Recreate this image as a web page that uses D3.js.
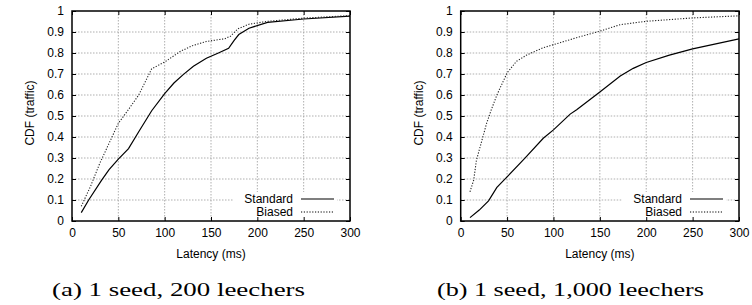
<!DOCTYPE html>
<html lang="en">
<head>
	<meta charset="UTF-8">
	<title>CDF latency</title>
	<style>
		body { margin: 0; background: #fff; }
	</style>
</head>
<body>
	<script src="https://cdn.jsdelivr.net/npm/d3@7"></script>
	<script>
		// panel (a): 1 seed, 200 leechers
		var stdLatA = [10, 18, 32, 40, 50, 61, 72, 86, 100, 110, 120, 131, 145, 158, 169, 175, 180, 191, 211, 250, 300];
		var stdCdfA = [0.04, 0.10, 0.195, 0.245, 0.295, 0.345, 0.425, 0.525, 0.607, 0.657, 0.697, 0.737, 0.775, 0.80, 0.822, 0.86, 0.888, 0.918, 0.946, 0.962, 0.976];
		var biasLatA = [10, 20, 30, 40, 50, 60, 72, 86, 100, 117, 130, 145, 165, 171, 179, 191, 211, 250, 300];
		var biasCdfA = [0.07, 0.165, 0.275, 0.37, 0.465, 0.525, 0.60, 0.725, 0.757, 0.808, 0.835, 0.855, 0.868, 0.88, 0.915, 0.937, 0.951, 0.966, 0.978];

		// panel (b): 1 seed, 1,000 leechers
		var stdLatB = [10, 20, 30, 39, 50, 69, 89, 100, 118, 125, 150, 172, 186, 200, 225, 250, 300];
		var stdCdfB = [0.016, 0.052, 0.096, 0.16, 0.21, 0.298, 0.394, 0.434, 0.509, 0.53, 0.614, 0.69, 0.727, 0.755, 0.79, 0.82, 0.867];
		var biasLatB = [10, 14, 17, 23, 28, 33, 39, 50, 60, 71, 89, 107, 125, 150, 172, 200, 250, 300];
		var biasCdfB = [0.139, 0.195, 0.29, 0.386, 0.466, 0.53, 0.60, 0.705, 0.76, 0.79, 0.825, 0.849, 0.873, 0.904, 0.935, 0.951, 0.967, 0.977];

		var xTicks = [0, 50, 100, 150, 200, 250, 300];
		var yTicks = [0, 0.1, 0.2, 0.3, 0.4, 0.5, 0.6, 0.7, 0.8, 0.9, 1];
		var seriesNames = ["Standard", "Biased"];
		var captions = ["(a) 1 seed, 200 leechers", "(b) 1 seed, 1,000 leechers"];

		var width = 752,
			height = 305,
			plotTop = 11,
			plotBottom = 221;

		var svg = d3.select("body").append("svg")
			.attr("width", width)
			.attr("height", height)
			.attr("font-family", "Liberation Sans, Arial, sans-serif")

		function zip(xs, ys) {
			return xs.map(function(v, i){ return {x: v, y: ys[i]}; });
		}

		function drawPanel(left, right, std, biased, caption, capLeft, capWidth) {
			var x = d3.scaleLinear().domain([0, 300]).range([left, right]),
				y = d3.scaleLinear().domain([0, 1]).range([plotBottom, plotTop]);

			var g = svg.append("g");

			// grid
			g.selectAll("line.vgrid")
				.data(xTicks.slice(1, -1))
				.enter().append("line")
				.attr("x1", x).attr("x2", x)
				.attr("y1", plotTop).attr("y2", plotBottom)
				.attr("stroke", "#a6a6a6")
				.attr("stroke-width", 0.9)
				.attr("stroke-dasharray", "1.5,1.5")

			g.selectAll("line.hgrid")
				.data(yTicks.slice(1, -1))
				.enter().append("line")
				.attr("x1", left).attr("x2", right)
				.attr("y1", y).attr("y2", y)
				.attr("stroke", "#a6a6a6")
				.attr("stroke-width", 0.9)
				.attr("stroke-dasharray", "1.5,1.5")

			// legend box hides the grid
			g.append("rect")
				.attr("x", right - 117)
				.attr("y", 192)
				.attr("width", 104)
				.attr("height", plotBottom - 192)
				.attr("fill", "#fff")

			var line = d3.line()
				.x(function(d){ return x(d.x); })
				.y(function(d){ return y(d.y); })

			g.append("path")
				.attr("d", line(std))
				.attr("fill", "none")
				.attr("stroke", "#000")
				.attr("stroke-width", 1.2)

			g.append("path")
				.attr("d", line(biased))
				.attr("fill", "none")
				.attr("stroke", "#222")
				.attr("stroke-width", 1.1)
				.attr("stroke-dasharray", "1.2,1.6")

			// axes
			var xAxis = d3.axisBottom(x).tickValues(xTicks).tickSize(-4).tickPadding(7);
			var yAxis = d3.axisLeft(y).tickValues(yTicks).tickSize(-4).tickPadding(8)
				.tickFormat(function(d){ return d === 0 || d === 1 ? d : d.toFixed(1); });

			g.append("g")
				.attr("transform", "translate(0," + plotBottom + ")")
				.call(xAxis)
			g.append("g")
				.attr("transform", "translate(" + left + ",0)")
				.call(yAxis)
			g.append("g")
				.attr("transform", "translate(0," + plotTop + ")")
				.call(d3.axisTop(x).tickValues(xTicks).tickSize(-4).tickFormat(""))
			g.append("g")
				.attr("transform", "translate(" + right + ",0)")
				.call(d3.axisRight(y).tickValues(yTicks).tickSize(-4).tickFormat(""))

			g.selectAll(".domain").remove()
			g.selectAll(".tick text")
				.attr("font-size", 12)
				.attr("font-family", "Liberation Sans, Arial, sans-serif")
				.attr("fill", "#000")

			g.append("rect")
				.attr("x", left).attr("y", plotTop)
				.attr("width", right - left).attr("height", plotBottom - plotTop)
				.attr("fill", "none")
				.attr("stroke", "#000")
				.attr("stroke-width", 1.5)

			// axis titles
			g.append("text")
				.attr("x", (left + right) / 2)
				.attr("y", 258)
				.attr("text-anchor", "middle")
				.attr("font-size", 12)
				.text("Latency (ms)")

			g.append("text")
				.attr("transform", "translate(" + (left - 38) + ",113) rotate(-90)")
				.attr("text-anchor", "middle")
				.attr("font-size", 12)
				.text("CDF (traffic)")

			// legend
			var leg = g.selectAll("g.legend")
				.data(seriesNames)
				.enter().append("g")
				.attr("transform", function(d, i){ return "translate(0," + (199 + i * 13) + ")"; })

			leg.append("text")
				.attr("x", right - 57)
				.attr("y", 4)
				.attr("text-anchor", "end")
				.attr("font-size", 12)
				.text(function(d){ return d; })

			leg.append("line")
				.attr("x1", right - 49).attr("x2", right - 16)
				.attr("y1", 0).attr("y2", 0)
				.attr("stroke", "#000")
				.attr("stroke-width", function(d, i){ return i ? 1.1 : 1.2; })
				.attr("stroke-dasharray", function(d, i){ return i ? "1.2,1.6" : null; })

			// caption
			svg.append("text")
				.attr("x", capLeft)
				.attr("y", 296)
				.attr("font-family", "Liberation Serif, DejaVu Serif, serif")
				.attr("font-size", 19)
				.attr("textLength", capWidth)
				.attr("lengthAdjust", "spacingAndGlyphs")
				.text(caption)
		}

		drawPanel(72, 350, zip(stdLatA, stdCdfA), zip(biasLatA, biasCdfA), captions[0], 52, 253);
		drawPanel(460.7, 739, zip(stdLatB, stdCdfB), zip(biasLatB, biasCdfB), captions[1], 437, 267);
	</script>
</body>
</html>
